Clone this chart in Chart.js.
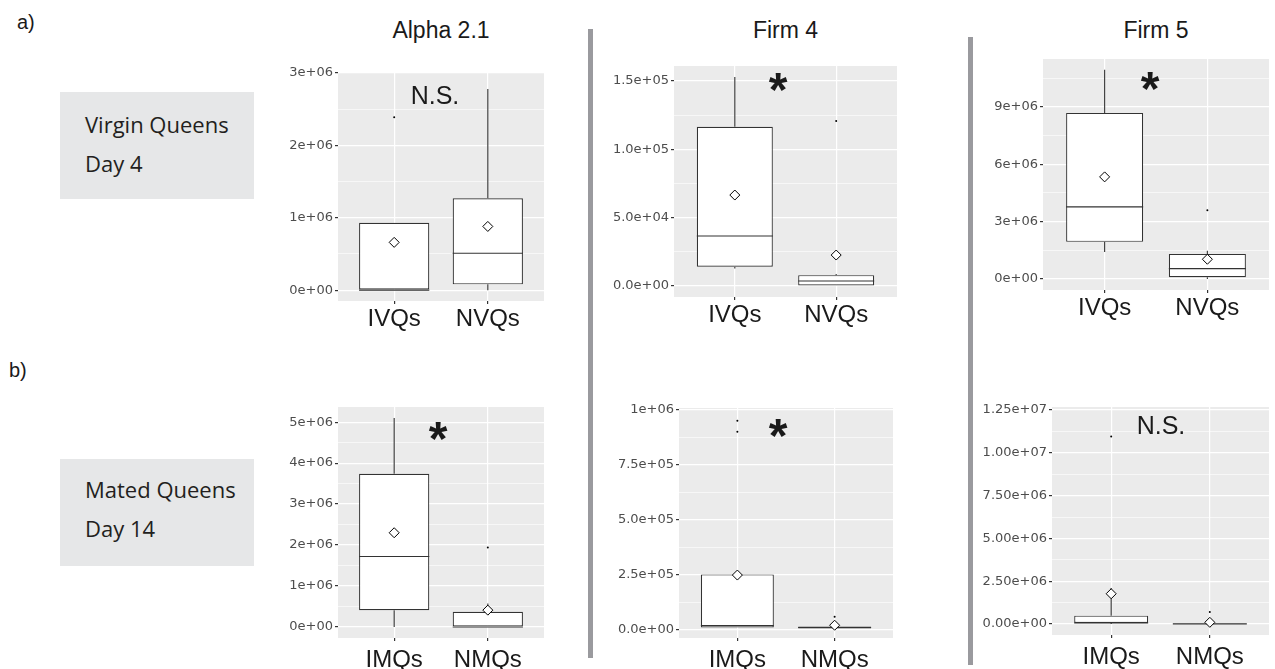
<!DOCTYPE html>
<html lang="en">
<head>
<meta charset="UTF-8">
<title>Queens boxplots</title>
<style>
  body { margin: 0; background: #fff; width: 1275px; height: 669px; position: relative; overflow: hidden;
         font-family: 'Liberation Sans', Arial, sans-serif; }
  canvas { position: absolute; }
  .txt { position: absolute; white-space: nowrap; line-height: 1; color: #1a1a1a; }
  .sep { position: absolute; width: 5px; background: #9a9a9e; }
  .rowlab { position: absolute; width: 194px; height: 107px; background: #e6e7e8;
            font-family: 'Open Sans', sans-serif; font-size: 22px; color: #231f20; }
  .rowlab span { position: absolute; left: 25px; line-height: 1; white-space: nowrap; }
</style>
<script src="https://cdn.jsdelivr.net/npm/chart.js"></script>
</head>
<body>

<div class="txt" style="left:17px;top:12px;font-size:20px;">a)</div>
<div class="txt" style="left:9px;top:360px;font-size:20px;">b)</div>

<div class="rowlab" style="left:60px;top:92px;"><span style="top:21px">Virgin Queens</span><span style="top:60px">Day 4</span></div>
<div class="rowlab" style="left:60px;top:459px;"><span style="top:19px">Mated Queens</span><span style="top:58px">Day 14</span></div>

<div class="sep" style="left:588px;top:29px;height:629px;"></div>
<div class="sep" style="left:968px;top:37px;height:628px;"></div>

<script>
const virginGroups = ['IVQs', 'NVQs'];
const matedGroups = ['IMQs', 'NMQs'];
const columnTitles = ['Alpha 2.1', 'Firm 4', 'Firm 5'];
const significance = ['N.S.', '*', '*', '*', '*', 'N.S.'];

// each box: [lower whisker, Q1, median, Q3, upper whisker]
const alphaVirginBoxes = [[0, 0, 0, 0.93e6, 0.93e6], [0, 0.08e6, 0.51e6, 1.27e6, 2.78e6]];
const alphaVirginMeans = [0.66e6, 0.88e6];
const alphaVirginOutliers = [[2.39e6], []];

const firm4VirginBoxes = [[12.9e3, 14.1e3, 36.6e3, 116.6e3, 153e3], [0, 0, 3.7e3, 8e3, 8.8e3]];
const firm4VirginMeans = [66.6e3, 22.7e3];
const firm4VirginOutliers = [[], [120.7e3]];

const firm5VirginBoxes = [[1.41e6, 1.94e6, 3.77e6, 8.69e6, 10.95e6], [0, 0.09e6, 0.54e6, 1.31e6, 1.48e6]];
const firm5VirginMeans = [5.34e6, 1.03e6];
const firm5VirginOutliers = [[], [3.59e6]];

const alphaMatedBoxes = [[0, 0.41e6, 1.72e6, 3.74e6, 5.1e6], [0, 0, 0, 0.37e6, 0.57e6]];
const alphaMatedMeans = [2.3e6, 0.41e6];
const alphaMatedOutliers = [[], [1.94e6]];

const firm4MatedBoxes = [[0.012e6, 0.012e6, 0.021e6, 0.253e6, 0.253e6], [0.005e6, 0.007e6, 0.012e6, 0.016e6, 0.02e6]];
const firm4MatedMeans = [0.25e6, 0.022e6];
const firm4MatedOutliers = [[0.951e6, 0.901e6], [0.06e6]];

const firm5MatedBoxes = [[0, 0.06e6, 0.06e6, 0.49e6, 2.1e6], [0, 0, 0.01e6, 0.02e6, 0.05e6]];
const firm5MatedMeans = [1.77e6, 0.1e6];
const firm5MatedOutliers = [[10.95e6], [0.7e6]];

// y axis major ticks and their labels
const alphaVirginTicks = [0, 1e6, 2e6, 3e6];
const alphaVirginTickLabels = ['0e+00', '1e+06', '2e+06', '3e+06'];
const firm4VirginTicks = [0, 5e4, 1e5, 1.5e5];
const firm4VirginTickLabels = ['0.0e+00', '5.0e+04', '1.0e+05', '1.5e+05'];
const firm5VirginTicks = [0, 3e6, 6e6, 9e6];
const firm5VirginTickLabels = ['0e+00', '3e+06', '6e+06', '9e+06'];
const alphaMatedTicks = [0, 1e6, 2e6, 3e6, 4e6, 5e6];
const alphaMatedTickLabels = ['0e+00', '1e+06', '2e+06', '3e+06', '4e+06', '5e+06'];
const firm4MatedTicks = [0, 2.5e5, 5e5, 7.5e5, 1e6];
const firm4MatedTickLabels = ['0.0e+00', '2.5e+05', '5.0e+05', '7.5e+05', '1e+06'];
const firm5MatedTicks = [0, 2.5e6, 5e6, 7.5e6, 1e7, 1.25e7];
const firm5MatedTickLabels = ['0.00e+00', '2.50e+06', '5.00e+06', '7.50e+06', '1.00e+07', '1.25e+07'];

// plot area in page pixels [left, top, right, bottom], y range, label offset
const panels = [
  { area: [338, 73, 544, 301], yRange: [-0.15e6, 3e6], groups: virginGroups, boxes: alphaVirginBoxes, means: alphaVirginMeans, outliers: alphaVirginOutliers, ticks: alphaVirginTicks, tickLabels: alphaVirginTickLabels, sig: [435, 95], labelPad: 1 },
  { area: [674, 66, 897, 297], yRange: [-8e3, 1.61e5], groups: virginGroups, boxes: firm4VirginBoxes, means: firm4VirginMeans, outliers: firm4VirginOutliers, ticks: firm4VirginTicks, tickLabels: firm4VirginTickLabels, sig: [778, 82], labelPad: 1 },
  { area: [1043, 59, 1269, 290], yRange: [-0.58e6, 11.51e6], groups: virginGroups, boxes: firm5VirginBoxes, means: firm5VirginMeans, outliers: firm5VirginOutliers, ticks: firm5VirginTicks, tickLabels: firm5VirginTickLabels, sig: [1150, 81], labelPad: 1 },
  { area: [338, 407, 544, 638], yRange: [-0.27e6, 5.37e6], groups: matedGroups, boxes: alphaMatedBoxes, means: alphaMatedMeans, outliers: alphaMatedOutliers, ticks: alphaMatedTicks, tickLabels: alphaMatedTickLabels, sig: [438, 431], labelPad: 5 },
  { area: [679, 408, 893, 638], yRange: [-0.036e6, 1.009e6], groups: matedGroups, boxes: firm4MatedBoxes, means: firm4MatedMeans, outliers: firm4MatedOutliers, ticks: firm4MatedTicks, tickLabels: firm4MatedTickLabels, sig: [778, 428], labelPad: 5 },
  { area: [1052, 407, 1269, 635], yRange: [-0.64e6, 1.268e7], groups: matedGroups, boxes: firm5MatedBoxes, means: firm5MatedMeans, outliers: firm5MatedOutliers, ticks: firm5MatedTicks, tickLabels: firm5MatedTickLabels, sig: [1161, 425], labelPad: 5 }
];

// grey panel background like ggplot
const panelBg = {
  id: 'panelBg',
  beforeDraw(chart) {
    const a = chart.chartArea;
    chart.ctx.save();
    chart.ctx.fillStyle = '#ebebeb';
    chart.ctx.fillRect(a.left, a.top, a.right - a.left, a.bottom - a.top);
    chart.ctx.restore();
  }
};

// whiskers and median line, drawn right after the boxes
const boxParts = {
  id: 'boxParts',
  afterDatasetDraw(chart, args) {
    const ds = chart.data.datasets[args.index];
    if (!ds.summary) return;
    const y = chart.scales.y;
    const ctx = chart.ctx;
    const a = chart.chartArea;
    ctx.save();
    ctx.beginPath();
    ctx.rect(a.left, a.top, a.right - a.left, a.bottom - a.top);
    ctx.clip();
    ctx.strokeStyle = '#333';
    ctx.lineWidth = 1.1;
    args.meta.data.forEach((bar, i) => {
      const s = ds.summary[i];
      const { x, width } = bar.getProps(['x', 'width'], true);
      ctx.beginPath();
      ctx.moveTo(x, y.getPixelForValue(s[3]));
      ctx.lineTo(x, y.getPixelForValue(s[4]));
      ctx.moveTo(x, y.getPixelForValue(s[1]));
      ctx.lineTo(x, y.getPixelForValue(s[0]));
      ctx.stroke();
      ctx.beginPath();
      ctx.moveTo(x - width / 2, y.getPixelForValue(s[2]));
      ctx.lineTo(x + width / 2, y.getPixelForValue(s[2]));
      ctx.stroke();
    });
    ctx.restore();
  }
};

function addText(txt, x, y, size, extra) {
  const d = document.createElement('div');
  d.className = 'txt';
  d.textContent = txt;
  d.style.fontSize = size + 'px';
  d.style.left = x + 'px';
  d.style.top = y + 'px';
  d.style.transform = 'translate(-50%, 0)';
  if (extra) Object.assign(d.style, extra);
  document.body.appendChild(d);
}

function makePanel(p, idx) {
  const padTop = 12, padRight = 6, yW = 80, xH = 42;
  const left = p.area[0] - yW, top = p.area[1] - padTop;
  const w = p.area[2] - left + padRight, h = p.area[3] - top + xH;
  const cv = document.createElement('canvas');
  cv.width = w; cv.height = h;
  cv.style.left = left + 'px'; cv.style.top = top + 'px';
  cv.style.width = w + 'px'; cv.style.height = h + 'px';
  document.body.appendChild(cv);

  const [ymin, ymax] = p.yRange;
  const half = (p.ticks[1] - p.ticks[0]) / 2;
  const isMajor = v => p.ticks.findIndex(m => Math.abs(m - v) < half * 0.01);

  const outlierPts = [];
  p.outliers.forEach((list, i) => list.forEach(v => outlierPts.push({ x: i + 1, y: v })));

  new Chart(cv, {
    type: 'bar',
    data: {
      datasets: [
        {
          type: 'bar',
          data: p.boxes.map((b, i) => ({ x: i + 1, y: [b[1], b[3]] })),
          summary: p.boxes,
          backgroundColor: '#ffffff',
          borderColor: '#333',
          borderWidth: 1.2,
          borderSkipped: false,
          barPercentage: 0.75,
          categoryPercentage: 1,
          order: 3
        },
        {
          type: 'scatter',
          data: outlierPts,
          pointStyle: 'circle',
          pointRadius: 1,
          backgroundColor: '#000',
          borderWidth: 0,
          order: 2
        },
        {
          type: 'scatter',
          data: p.means.map((m, i) => ({ x: i + 1, y: m })),
          pointStyle: 'rectRot',
          pointRadius: 5,
          backgroundColor: '#fff',
          borderColor: '#000',
          borderWidth: 1,
          order: 1
        }
      ]
    },
    options: {
      responsive: false,
      animation: false,
      devicePixelRatio: 1,
      layout: { padding: { top: padTop, right: padRight, left: 0, bottom: 0 } },
      plugins: { legend: { display: false }, tooltip: { enabled: false } },
      scales: {
        x: {
          type: 'linear',
          min: 0.4,
          max: 2.6,
          offset: false,
          afterBuildTicks: s => { s.ticks = [{ value: 1 }, { value: 2 }]; },
          afterFit: s => { s.height = xH; },
          ticks: {
            autoSkip: false,
            padding: p.labelPad,
            maxRotation: 0,
            color: '#1a1a1a',
            font: { family: "'Liberation Sans', Arial, sans-serif", size: 24 },
            callback: v => p.groups[Math.round(v) - 1]
          },
          grid: { offset: false, color: '#ffffff', lineWidth: 1.2, tickLength: 3, tickColor: '#333' },
          border: { display: false }
        },
        y: {
          type: 'linear',
          min: ymin,
          max: ymax,
          afterBuildTicks: s => {
            const out = [];
            for (let k = -1; p.ticks[0] + k * half <= ymax + half * 0.001; k++) {
              const v = p.ticks[0] + k * half;
              if (v >= ymin) out.push({ value: v });
            }
            s.ticks = out;
          },
          afterFit: s => { s.width = yW; },
          ticks: {
            autoSkip: false,
            padding: 2,
            color: '#4d4d4d',
            font: { family: "'DejaVu Sans', sans-serif", size: 13 },
            callback: v => { const i = isMajor(v); return i >= 0 ? p.tickLabels[i] : ''; }
          },
          grid: {
            color: '#ffffff',
            lineWidth: c => (c.tick && isMajor(c.tick.value) >= 0 ? 1.2 : 0.6),
            tickLength: 3,
            tickColor: c => (c.tick && isMajor(c.tick.value) >= 0 ? '#333' : 'rgba(0,0,0,0)')
          },
          border: { display: false }
        }
      }
    },
    plugins: [panelBg, boxParts]
  });

  // title over the top row, significance mark in each panel
  if (idx < 3) addText(columnTitles[idx], (p.area[0] + p.area[2]) / 2, 19, 23);
  const sig = significance[idx];
  if (sig === '*') {
    addText(sig, p.sig[0], p.sig[1] - 16, 48, { fontWeight: 'bold' });
  } else {
    addText(sig, p.sig[0], p.sig[1] - 12, 25);
  }
}

panels.forEach(makePanel);
</script>
</body>
</html>
